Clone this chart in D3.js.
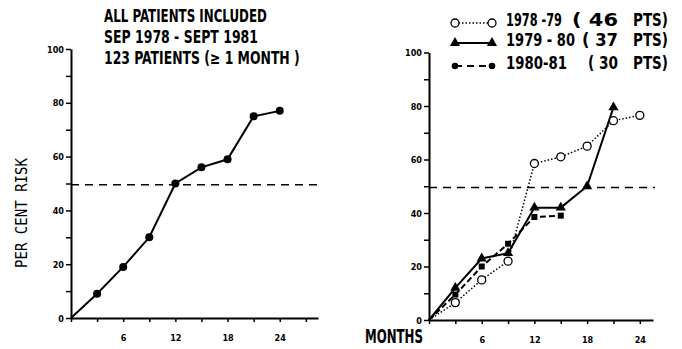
<!DOCTYPE html>
<html>
<head>
<meta charset="utf-8">
<script src="https://cdn.jsdelivr.net/npm/d3@7"></script>
<style>
  body { margin: 0; background: #fff; }
  svg { display: block; }
  .narrow { font-family: "Liberation Sans Narrow", "DejaVu Sans Condensed", "Liberation Sans", sans-serif; font-weight: bold; }
  .axis text { font-family: "Liberation Sans Narrow", "DejaVu Sans Condensed", sans-serif; font-weight: bold; font-size: 9px; fill: #000; }
  .axis path, .axis line { stroke: #000; }
</style>
</head>
<body>
<div id="chart-area"></div>
<script>
// ---- data ----
let months = [0, 3, 6, 9, 12, 15, 18, 21, 24];
let allPatients = [0, 9, 19, 30, 50, 56, 59, 75, 77];

let months7879 = [0, 3, 6, 9, 12, 15, 18, 21, 24];
let risk7879 = [0, 6.5, 15, 22, 58.5, 61, 65, 74.5, 76.5];
let months7980 = [0, 3, 6, 9, 12, 15, 18, 21];
let risk7980 = [0, 12, 23, 25, 42, 42, 50, 79.5];
let months8081 = [0, 3, 6, 9, 12, 15];
let risk8081 = [0, 9.5, 20, 28.5, 38.5, 39];

let medianLine = 49.5;

let titleLines = ["ALL PATIENTS INCLUDED", "SEP 1978 - SEPT 1981", "123 PATIENTS (\u2265 1 MONTH )"];
let periods = ["1978 -79", "1979 - 80", "1980-81"];
let counts = ["( 46", "( 37", "( 30"];
let yTicks = [0, 10, 20, 30, 40, 50, 60, 70, 80, 90, 100];

let svgCanvas = d3.select("#chart-area")
                  .append("svg")
                  .attr("width", 682)
                  .attr("height", 349)

// squeeze/stretch a text horizontally so it spans w pixels
function fitText(sel, x, y, w) {
    sel.attr("x", 0).attr("y", 0);
    sel.each(function(d, i) {
        let n = this.getComputedTextLength();
        let xi = typeof x === "function" ? x(d, i) : x;
        let yi = typeof y === "function" ? y(d, i) : y;
        let wi = typeof w === "function" ? w(d, i) : w;
        d3.select(this).attr("transform", `translate(${xi},${yi}) scale(${wi / n},1)`);
    });
}

// ---- left panel ----
let xL = d3.scaleLinear().domain([0, 28.4]).range([71, 318]);
let yL = d3.scaleLinear().domain([0, 100]).range([318, 49]);

// ---- right panel ----
let xR = d3.scaleLinear().domain([0, 25.5]).range([429, 653]);
let yR = d3.scaleLinear().domain([0, 100]).range([320, 52.5]);

function drawAxes(x, y, xTicks) {
    let ya = svgCanvas.append("g")
        .attr("class", "axis")
        .attr("transform", `translate(${x(0)},0)`)
        .call(d3.axisLeft(y).tickValues(yTicks).tickSize(5).tickSizeOuter(0).tickPadding(2)
                .tickFormat(d => d % 20 === 0 ? d : ""));
    ya.select(".domain").attr("stroke-width", 2);
    ya.selectAll(".tick line").attr("stroke-width", 1.5);
    ya.selectAll(".tick text").attr("dy", "0.35em");

    let xa = svgCanvas.append("g")
        .attr("class", "axis")
        .attr("transform", `translate(0,${y(0)})`)
        .call(d3.axisBottom(x).tickValues(xTicks).tickSize(4).tickSizeOuter(0).tickPadding(13)
                .tickFormat(d => (d > 0 && d % 6 === 0) ? d : ""));
    xa.select(".domain").attr("stroke-width", 2);
    xa.selectAll(".tick line").attr("stroke-width", 1.5);

    svgCanvas.append("line")
        .attr("x1", x(0)).attr("x2", x.range()[1] + 2)
        .attr("y1", y(medianLine)).attr("y2", y(medianLine))
        .attr("stroke", "#000")
        .attr("stroke-width", 1.5)
        .attr("stroke-dasharray", "8,6");
}

drawAxes(xL, yL, d3.range(0, 28, 3));
drawAxes(xR, yR, d3.range(0, 25, 3));

// left series
let leftData = months.map((m, i) => ({m: m, v: allPatients[i]}));
svgCanvas.append("path")
    .datum(leftData)
    .attr("fill", "none")
    .attr("stroke", "#000")
    .attr("stroke-width", 2)
    .attr("d", d3.line().x(d => xL(d.m)).y(d => yL(d.v)));

svgCanvas.selectAll("circle.left")
    .data(leftData.slice(1))
    .enter().append("circle")
    .attr("class", "left")
    .attr("cx", d => xL(d.m))
    .attr("cy", d => yL(d.v))
    .attr("r", 4)
    .attr("fill", "#000")

// right series
let lineR = d3.line().x(d => xR(d.m)).y(d => yR(d.v));
let s7879 = months7879.map((m, i) => ({m: m, v: risk7879[i]}));
let s7980 = months7980.map((m, i) => ({m: m, v: risk7980[i]}));
let s8081 = months8081.map((m, i) => ({m: m, v: risk8081[i]}));

svgCanvas.append("path").datum(s8081)
    .attr("fill", "none").attr("stroke", "#000").attr("stroke-width", 2)
    .attr("stroke-dasharray", "6,3")
    .attr("d", lineR);
svgCanvas.append("path").datum(s7980)
    .attr("fill", "none").attr("stroke", "#000").attr("stroke-width", 2)
    .attr("d", lineR);
svgCanvas.append("path").datum(s7879)
    .attr("fill", "none").attr("stroke", "#000").attr("stroke-width", 1.5)
    .attr("stroke-dasharray", "1.5,2")
    .attr("d", lineR);

let tri = d3.symbol().type(d3.symbolTriangle).size(45);
let sq = d3.symbol().type(d3.symbolSquare).size(36);

svgCanvas.selectAll("path.sq")
    .data(s8081.slice(1))
    .enter().append("path")
    .attr("class", "sq")
    .attr("transform", d => `translate(${xR(d.m)},${yR(d.v)})`)
    .attr("d", sq)
    .attr("fill", "#000");

svgCanvas.selectAll("path.tri")
    .data(s7980.slice(1))
    .enter().append("path")
    .attr("class", "tri")
    .attr("transform", d => `translate(${xR(d.m)},${yR(d.v)})`)
    .attr("d", tri)
    .attr("fill", "#000");

svgCanvas.selectAll("circle.open")
    .data(s7879.slice(1))
    .enter().append("circle")
    .attr("class", "open")
    .attr("cx", d => xR(d.m))
    .attr("cy", d => yR(d.v))
    .attr("r", 4)
    .attr("fill", "#fff")
    .attr("stroke", "#000")
    .attr("stroke-width", 1.3);

// ---- texts ----
let titleY = [22, 43, 64];
let titleW = [163, 154, 196];
svgCanvas.selectAll("text.title")
    .data(titleLines)
    .enter().append("text")
    .attr("class", "title narrow")
    .attr("font-size", 17)
    .text(d => d)
    .call(fitText, 104, (d, i) => titleY[i], (d, i) => titleW[i]);

svgCanvas.append("text")
    .attr("transform", "translate(27,213) rotate(-90)")
    .attr("text-anchor", "middle")
    .attr("font-family", "DejaVu Sans Mono, monospace")
    .attr("font-size", 15)
    .attr("textLength", 110)
    .attr("lengthAdjust", "spacingAndGlyphs")
    .text("PER CENT RISK");

svgCanvas.append("text")
    .attr("class", "narrow")
    .attr("font-size", 19)
    .text("MONTHS")
    .call(fitText, 365, 343, 58);

// legend
let legY = [23, 43, 66];
let periodW = [56, 69, 61];
let countX = [572, 582, 588];
let countW = [46, 36, 30];

periods.forEach((p, i) => {
    svgCanvas.append("text").attr("class", "narrow").attr("font-size", 17)
        .text(p).call(fitText, 506, legY[i] + 3, periodW[i]);
    svgCanvas.append("text").attr("class", "narrow").attr("font-size", 17)
        .text(counts[i]).call(fitText, countX[i], legY[i] + 3, countW[i]);
    svgCanvas.append("text").attr("class", "narrow").attr("font-size", 17)
        .text("PTS)").call(fitText, 633, legY[i] + 3, 35);
});

let leg = svgCanvas.selectAll("g.leg")
    .data(periods)
    .enter().append("g")
    .attr("class", "leg")
    .attr("transform", (d, i) => `translate(0,${legY[i]})`);

leg.append("line")
    .attr("x1", 455).attr("x2", 492).attr("y1", 0).attr("y2", 0)
    .attr("stroke", "#000")
    .attr("stroke-width", (d, i) => i === 0 ? 1.5 : 2)
    .attr("stroke-dasharray", (d, i) => i === 0 ? "1.5,2" : (i === 2 ? "7,5" : null));

leg.each(function(d, i) {
    let g = d3.select(this);
    [455, 492].forEach(px => {
        if (i === 0) {
            g.append("circle").attr("cx", px).attr("cy", 0).attr("r", 4)
             .attr("fill", "#fff").attr("stroke", "#000").attr("stroke-width", 1.3);
        } else if (i === 1) {
            g.append("path").attr("transform", `translate(${px},0)`).attr("d", tri).attr("fill", "#000");
        } else {
            g.append("circle").attr("cx", px).attr("cy", 0).attr("r", 3.3).attr("fill", "#000");
        }
    });
});
</script>
</body>
</html>
